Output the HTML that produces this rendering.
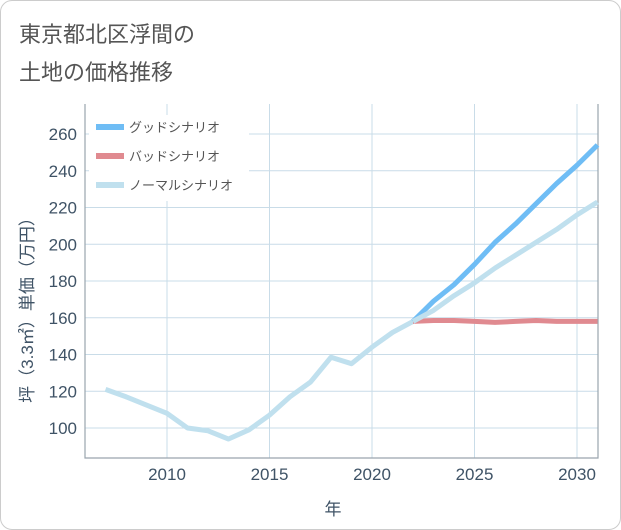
<!DOCTYPE html>
<html><head><meta charset="utf-8"><style>
body{margin:0;background:#fff;}
#card{position:absolute;left:0;top:0;width:619px;height:528px;border:1px solid #ccc;border-radius:12px;background:#fff;overflow:hidden}
.t{position:absolute;left:18px;font-family:"Liberation Sans","Noto Sans CJK JP",sans-serif;font-size:22px;color:#555}
svg text{font-family:"Liberation Sans","Noto Sans CJK JP",sans-serif}
</style></head><body>
<div id="card">
<div class="t" style="top:16px">東京都北区浮間の</div>
<div class="t" style="top:54px">土地の価格推移</div>
<svg id="chart" width="621" height="530" style="position:absolute;left:0;top:0"></svg>
</div>
<script>
const years=[2007,2008,2009,2010,2011,2012,2013,2014,2015,2016,2017,2018,2019,2020,2021,2022,2023,2024,2025,2026,2027,2028,2029,2030,2031];
const histVals=[121,117,112.5,108,100,98.5,94,99,107,117,125,138.5,135,144,152,158];
const goodVals=[169,178,189,201,211,222,233,243,254];
const normalVals=[164,172,179,187,194,201,208,216,223];
const badVals=[158.5,158.5,158,157.5,158,158.5,158,158,158];
const yTicks=[100,120,140,160,180,200,220,240,260];
const xTicks=[2010,2015,2020,2025,2030];
const L=84,R=597,T=103,B=457;
const x=v=>166+(v-2010)*(576-166)/20;
const y=v=>427-(v-100)*(427-133)/160;
const svg=document.getElementById('chart');
const NS='http://www.w3.org/2000/svg';
function mk(tag,a){const e=document.createElementNS(NS,tag);for(const k in a)e.setAttribute(k,a[k]);svg.appendChild(e);return e;}
let bg=mk('rect',{x:L,y:T,width:R-L,height:B-T,fill:'#fff',stroke:'none'});


yTicks.forEach(v=>{
 let l=mk('line',{x1:L,x2:R,y1:y(v),y2:y(v),stroke:'#c9dce8','stroke-width':1});
 
 
 let t=mk('text',{x:L-8,y:y(v)+6,'text-anchor':'end','font-size':17,fill:'#3f5366'});t.textContent=v;
 
 
});
xTicks.forEach(v=>{
 let l=mk('line',{x1:x(v),x2:x(v),y1:T,y2:B,stroke:'#c9dce8','stroke-width':1});
 
 
 let t=mk('text',{x:x(v),y:B+22,'text-anchor':'middle','font-size':17,fill:'#3f5366'});t.textContent=v;
 
 
});
let ax=mk('path',{d:`M${L},${T}V${B}H${R}V${T}`,fill:'none',stroke:'#9aa5ae','stroke-width':1.2});


const lastYear=years[histVals.length-1],lastVal=histVals[histVals.length-1];
function line(vals,start,color,w,name){
 let pts=[];
 if(start) pts.push([x(lastYear),y(lastVal)]);
 vals.forEach((v,i)=>pts.push([x(years[(start?histVals.length:0)+i]),y(v)]));
 let p=mk('polyline',{points:pts.map(p=>p.join(',')).join(' '),fill:'none',stroke:color,'stroke-width':w,'stroke-linejoin':'round'});
 
 
}
line(histVals,false,'#c0e0ee',5,'history-line');
line(badVals,true,'#e08a90',5,'bad-scenario-line');
line(goodVals,true,'#6fbdf5',5,'good-scenario-line');
line(normalVals,true,'#c0e0ee',5,'normal-scenario-line');
let lb=mk('rect',{x:88,y:114,width:160,height:86,fill:'#fff'});


[['グッドシナリオ','#6fbdf5'],['バッドシナリオ','#e08a90'],['ノーマルシナリオ','#c0e0ee']].forEach((d,i)=>{
 let yy=126+i*29;
 let s=mk('line',{x1:95,x2:123,y1:yy,y2:yy,stroke:d[1],'stroke-width':6});
 
 
 let t=mk('text',{x:128,y:yy+5,'font-size':13,fill:'#555'});t.textContent=d[0];
 
 
});
let xt=mk('text',{x:332,y:514,'text-anchor':'middle','font-size':17,fill:'#3f5366'});xt.textContent='年';


let yt=mk('text',{x:0,y:0,'text-anchor':'middle','font-size':17,fill:'#3f5366',transform:'translate(32,305) rotate(-90)'});yt.textContent='坪（3.3㎡）単価（万円）';


</script>
</body></html>
